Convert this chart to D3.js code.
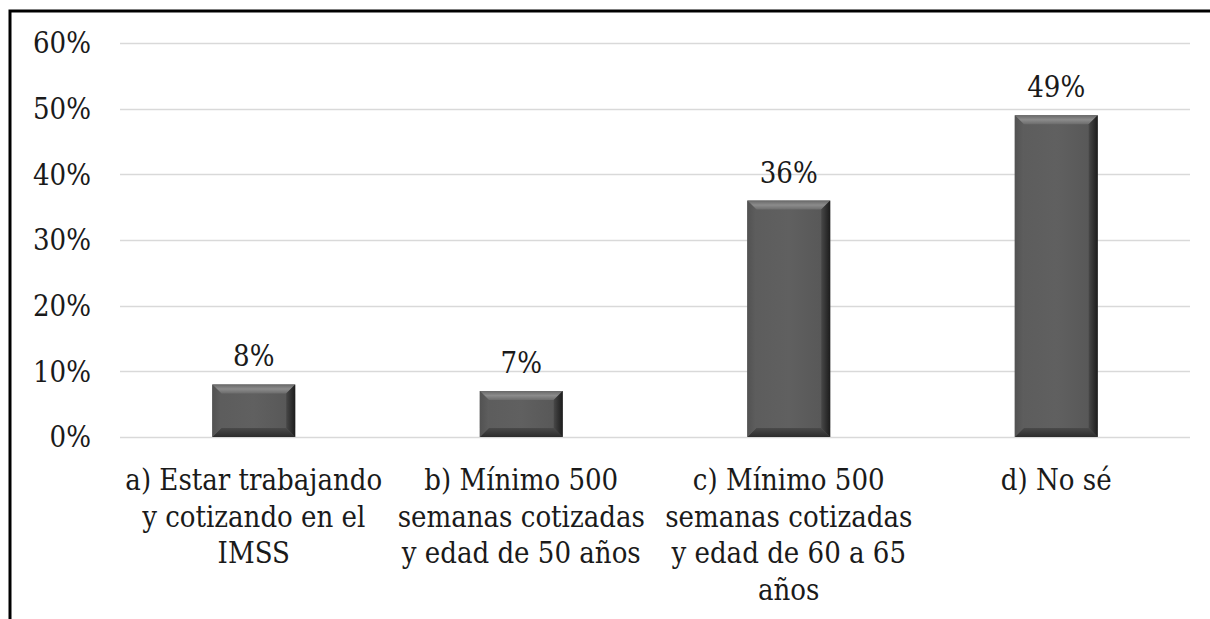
<!DOCTYPE html>
<html lang="es">
<head>
<meta charset="UTF-8">
<title>Requisitos</title>
<script src="https://cdnjs.cloudflare.com/ajax/libs/d3/7.8.5/d3.min.js"></script>
<style>
  body { margin: 0; background: #fff; }
  text { font-family: "DejaVu Serif Condensed", "DejaVu Serif", serif; font-stretch: condensed; fill: #1a1a1a; }
</style>
</head>
<body>
<div id="chart"></div>
<script>
  // data
  var categories = [
    ["a) Estar trabajando", "y cotizando en el", "IMSS"],
    ["b) Mínimo 500", "semanas cotizadas", "y edad de 50 años"],
    ["c) Mínimo 500", "semanas cotizadas", "y edad de 60 a 65", "años"],
    ["d) No sé"]
  ];
  var values = [8, 7, 36, 49];
  var valueLabels = ["8%", "7%", "36%", "49%"];
  var yTicks = [0, 10, 20, 30, 40, 50, 60];

  var width = 1210, height = 619;
  var plotLeft = 120, plotRight = 1190, plotTop = 43, plotBottom = 437;
  var fontSize = 29;

  var svg = d3.select("#chart").append("svg")
    .attr("width", width)
    .attr("height", height);

  // frame (left and top edges visible)
  svg.append("path")
    .attr("d", "M10,619 L10,11 L1210,11")
    .attr("fill", "none")
    .attr("stroke", "#000")
    .attr("stroke-width", 3);

  var x = d3.scaleBand()
    .domain(d3.range(categories.length))
    .range([plotLeft, plotRight])
    .paddingInner(0.69)
    .paddingOuter(0.345);

  var y = d3.scaleLinear()
    .domain([0, 60])
    .range([plotBottom, plotTop]);

  // gridlines
  svg.append("g").selectAll("line")
    .data(yTicks)
    .enter().append("line")
    .attr("x1", plotLeft).attr("x2", plotRight)
    .attr("y1", function(d) { return Math.round(y(d)) + 0.5; })
    .attr("y2", function(d) { return Math.round(y(d)) + 0.5; })
    .attr("stroke", "#d9d9d9")
    .attr("stroke-width", 1.5);

  // y tick labels
  svg.append("g").selectAll("text")
    .data(yTicks)
    .enter().append("text")
    .attr("x", 91)
    .attr("y", function(d) { return y(d); })
    .attr("dy", "0.36em")
    .attr("text-anchor", "end")
    .attr("font-size", fontSize)
    .text(function(d) { return d + "%"; });

  // gradients for the bevel look
  var defs = svg.append("defs");
  function grad(id, x2, y2, stops) {
    var g = defs.append("linearGradient").attr("id", id)
      .attr("x1", 0).attr("y1", 0).attr("x2", x2).attr("y2", y2);
    stops.forEach(function(s) {
      g.append("stop").attr("offset", s[0]).attr("stop-color", s[1]);
    });
  }
  grad("gTop", 0, 1, [[0, "#686868"], [0.5, "#8c8c8c"], [1, "#6c6c6c"]]);
  grad("gBot", 0, 1, [[0, "#4a4a4a"], [1, "#2c2c2c"]]);
  grad("gLeft", 1, 0, [[0, "#525252"], [1, "#5e5e5e"]]);
  grad("gRight", 1, 0, [[0, "#484848"], [1, "#1c1c1c"]]);
  grad("gBody", 1, 0, [[0, "#5c5c5c"], [0.5, "#606060"], [1, "#565656"]]);

  var bw = x.bandwidth();
  var bev = 9;

  var bars = svg.append("g").selectAll("g")
    .data(values)
    .enter().append("g")
    .attr("transform", function(d, i) { return "translate(" + x(i) + "," + y(d) + ")"; });

  bars.append("rect")
    .attr("width", bw)
    .attr("height", function(d) { return plotBottom - y(d); })
    .attr("fill", "url(#gBody)");

  bars.each(function(d) {
    var h = plotBottom - y(d);
    var b = Math.min(bev, h / 2);
    var g = d3.select(this);
    g.append("path").attr("fill", "url(#gTop)")
      .attr("d", "M0,0 L" + bw + ",0 L" + (bw - b) + "," + b + " L" + b + "," + b + "Z");
    g.append("path").attr("fill", "url(#gBot)")
      .attr("d", "M0," + h + " L" + bw + "," + h + " L" + (bw - b) + "," + (h - b) + " L" + b + "," + (h - b) + "Z");
    g.append("path").attr("fill", "url(#gLeft)")
      .attr("d", "M0,0 L" + b + "," + b + " L" + b + "," + (h - b) + " L0," + h + "Z");
    g.append("path").attr("fill", "url(#gRight)")
      .attr("d", "M" + bw + ",0 L" + (bw - b) + "," + b + " L" + (bw - b) + "," + (h - b) + " L" + bw + "," + h + "Z");
  });

  // value labels
  svg.append("g").selectAll("text")
    .data(values)
    .enter().append("text")
    .attr("x", function(d, i) { return x(i) + bw / 2; })
    .attr("y", function(d) { return y(d) - 18; })
    .attr("text-anchor", "middle")
    .attr("font-size", fontSize)
    .text(function(d, i) { return valueLabels[i]; });

  // category labels
  var cat = svg.append("g").selectAll("text")
    .data(categories)
    .enter().append("text")
    .attr("x", function(d, i) { return x(i) + bw / 2; })
    .attr("y", 490)
    .attr("text-anchor", "middle")
    .attr("font-size", fontSize);

  cat.selectAll("tspan")
    .data(function(d) { return d; })
    .enter().append("tspan")
    .attr("x", function() { return d3.select(this.parentNode).attr("x"); })
    .attr("dy", function(d, j) { return j === 0 ? 0 : 36.5; })
    .text(function(d) { return d; });
</script>
</body>
</html>
